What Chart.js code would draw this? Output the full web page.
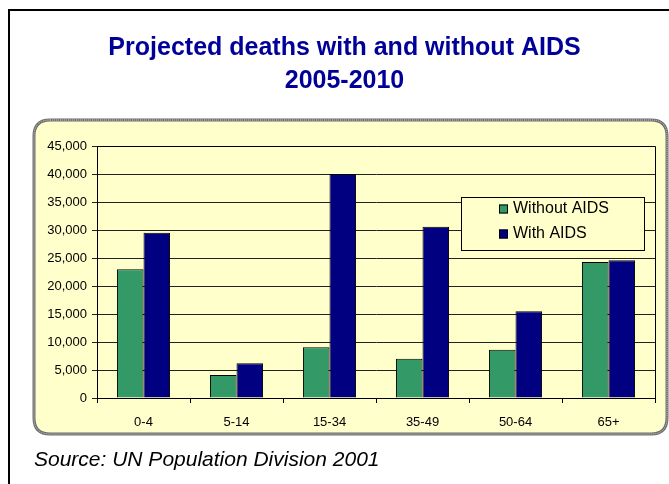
<!DOCTYPE html>
<html>
<head>
<meta charset="utf-8">
<script src="https://cdn.jsdelivr.net/npm/chart.js@4.4.1/dist/chart.umd.min.js"></script>
<style>
  html, body { margin: 0; padding: 0; background: #ffffff; }
  #wrap { width: 669px; height: 484px; position: relative; }
</style>
</head>
<body>
<div id="wrap"><canvas id="c" width="669" height="484"></canvas></div>
<script>
const categories = ['0-4', '5-14', '15-34', '35-49', '50-64', '65+'];
const withoutAids = [23000, 4100, 9050, 7000, 8600, 24300];
const withAids = [29500, 6200, 40000, 30600, 15500, 24600];
const seriesNames = ['Without AIDS', 'With AIDS'];
const seriesColors = ['#339966', '#000080'];
const yMin = 0, yMax = 45000, yStep = 5000;
const titleLines = ['Projected deaths with and without AIDS', '2005-2010'];
const sourceText = 'Source: UN Population Division 2001';

const FONT = '"Liberation Sans", Arial, Helvetica, sans-serif';

function roundRect(ctx, x, y, w, h, r) {
  ctx.beginPath();
  ctx.moveTo(x + r, y);
  ctx.lineTo(x + w - r, y);
  ctx.quadraticCurveTo(x + w, y, x + w, y + r);
  ctx.lineTo(x + w, y + h - r);
  ctx.quadraticCurveTo(x + w, y + h, x + w - r, y + h);
  ctx.lineTo(x + r, y + h);
  ctx.quadraticCurveTo(x, y + h, x, y + h - r);
  ctx.lineTo(x, y + r);
  ctx.quadraticCurveTo(x, y, x + r, y);
  ctx.closePath();
}

const framePlugin = {
  id: 'frame',
  beforeDraw(chart) {
    const ctx = chart.ctx;
    ctx.save();
    ctx.fillStyle = '#ffffff';
    ctx.fillRect(0, 0, chart.width, chart.height);
    // outer slide border
    ctx.strokeStyle = '#000000';
    ctx.lineWidth = 2;
    ctx.strokeRect(9, 10, 700, 520);
    // rounded chart box
    roundRect(ctx, 34, 120, 633, 314, 16);
    ctx.fillStyle = '#FFFFCC';
    ctx.fill();
    ctx.lineWidth = 3;
    ctx.strokeStyle = '#6e6e6e';
    ctx.stroke();
    ctx.lineWidth = 1;
    ctx.setLineDash([1, 1]);
    ctx.strokeStyle = '#d0d0d0';
    ctx.stroke();
    ctx.setLineDash([]);
    ctx.restore();
  },
  afterDraw(chart) {
    const ctx = chart.ctx;
    const a = chart.chartArea;
    ctx.save();
    // plot area right & top border
    ctx.strokeStyle = '#000000';
    ctx.lineWidth = 1;
    ctx.beginPath();
    ctx.moveTo(a.left, a.top + 0.5);
    ctx.lineTo(a.right + 0.5, a.top + 0.5);
    ctx.lineTo(a.right + 0.5, a.bottom);
    ctx.stroke();
    // legend
    const lx = 461.5, ly = 197.5, lw = 183, lh = 53;
    ctx.fillStyle = '#FFFFCC';
    ctx.fillRect(lx, ly, lw, lh);
    ctx.strokeRect(lx, ly, lw, lh);
    ctx.font = '16px ' + FONT;
    ctx.textBaseline = 'middle';
    ctx.textAlign = 'left';
    chart.data.datasets.forEach((ds, i) => {
      const cy = 209 + i * 25;
      ctx.fillStyle = ds.backgroundColor;
      ctx.fillRect(499, cy - 4.5, 9, 9);
      ctx.strokeStyle = '#000';
      ctx.strokeRect(499.5, cy - 4, 8, 8);
      ctx.fillStyle = '#000';
      ctx.fillText(ds.label, 513, cy);
    });
    ctx.restore();
  }
};

new Chart(document.getElementById('c'), {
  type: 'bar',
  data: {
    labels: categories,
    datasets: [
      { label: seriesNames[0], data: withoutAids, backgroundColor: seriesColors[0], borderColor: '#000', borderWidth: 1 },
      { label: seriesNames[1], data: withAids, backgroundColor: seriesColors[1], borderColor: '#000', borderWidth: 1 }
    ]
  },
  options: {
    responsive: false,
    animation: false,
    layout: { padding: { left: 34, right: 14, top: 0, bottom: 0 } },
    datasets: { bar: { barPercentage: 1.0, categoryPercentage: 0.571 } },
    plugins: {
      legend: { display: false },
      tooltip: { enabled: false },
      title: {
        display: true,
        text: titleLines,
        color: '#000099',
        font: { family: FONT, size: 25, weight: 'bold', lineHeight: '32.5px' },
        padding: { top: 32, bottom: 49 }
      },
      subtitle: {
        display: true,
        position: 'bottom',
        align: 'start',
        text: sourceText,
        color: '#000000',
        font: { family: FONT, size: 21, style: 'italic', lineHeight: '25px' },
        padding: { top: 14, bottom: 11 }
      }
    },
    scales: {
      x: {
        offset: true,
        grid: { display: true, drawOnChartArea: false, drawTicks: true, tickLength: 5, color: '#000', offset: true },
        border: { display: true, color: '#000', width: 1 },
        ticks: { color: '#000', font: { family: FONT, size: 13 }, padding: 12, maxRotation: 0 },
        afterFit(scale) { scale.height = 36; }
      },
      y: {
        min: yMin,
        max: yMax,
        grid: { color: '#222', drawTicks: true, tickLength: 5 },
        border: { display: true, color: '#000', width: 1 },
        ticks: {
          stepSize: yStep,
          color: '#000',
          font: { family: FONT, size: 13 },
          padding: 5,
          callback: (v) => Number(v).toLocaleString('en-US')
        },
        afterFit(scale) { scale.width = 63; }
      }
    }
  },
  plugins: [framePlugin]
});
</script>
</body>
</html>
